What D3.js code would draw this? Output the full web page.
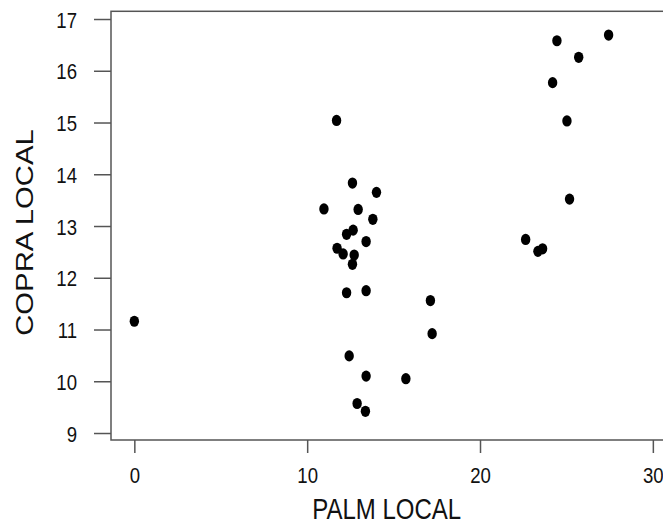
<!DOCTYPE html>
<html>
<head>
<meta charset="utf-8">
<script src="https://cdn.jsdelivr.net/npm/d3@7"></script>
<style>
  body { margin: 0; background: #fff; }
  svg text { font-family: "Liberation Sans", Arial, sans-serif; fill: #111; }
</style>
</head>
<body>
<div class="container"></div>
<script>
// palm local vs copra local
let palm = [0, 11.70, 12.62, 14.01, 10.97, 12.95, 13.80, 12.28, 12.66, 13.41, 11.73,
  12.08, 12.72, 12.62, 12.28, 13.41, 17.13, 17.23, 12.43, 13.41, 15.71, 12.89,
  13.37, 24.45, 27.44, 25.71, 24.20, 25.03, 25.18, 22.64, 23.35, 23.62];
let copra = [11.16, 15.04, 13.83, 13.65, 13.33, 13.32, 13.13, 12.84, 12.92, 12.70, 12.57,
  12.46, 12.44, 12.26, 11.71, 11.75, 11.56, 10.92, 10.49, 10.10, 10.05, 9.57,
  9.42, 16.58, 16.69, 16.26, 15.77, 15.03, 13.52, 12.74, 12.51, 12.56];
let xTicks = [0, 10, 20, 30];
let yTicks = [9, 10, 11, 12, 13, 14, 15, 16, 17];

let W = 663, H = 527;
let box = {left: 111, top: 11.3, bottom: 440, right: 741};
let stretch = 1.22; // picture looks squashed sideways

let x = d3.scaleLinear().domain([-1.35, 35.1]).range([box.left, box.right]);
let y = d3.scaleLinear().domain([8.865, 17.149]).range([box.bottom, box.top]);

let svg = d3.select(".container").append("svg")
    .attr("width", W)
    .attr("height", H);

let data = palm.map((p, i) => ({p: p, c: copra[i]}));

// box
svg.append("rect")
  .attr("x", box.left).attr("y", box.top)
  .attr("width", box.right - box.left).attr("height", box.bottom - box.top)
  .attr("fill", "none")
  .attr("stroke", "#555")
  .attr("stroke-width", 1.5);

// x axis
let gx = svg.append("g")
  .attr("transform", "translate(0," + box.bottom + ")")
  .call(d3.axisBottom(x).tickValues(xTicks).tickSize(13).tickSizeOuter(0).tickFormat(""));
gx.select(".domain").remove();
gx.selectAll(".tick line").attr("stroke", "#555").attr("stroke-width", 1.5);
gx.selectAll(".tick").append("text")
  .text(d => d)
  .attr("text-anchor", "middle")
  .attr("transform", "translate(0,43) scale(1," + stretch + ")")
  .style("font-size", "18.6px");

// y axis
let gy = svg.append("g")
  .attr("transform", "translate(" + box.left + ",0)")
  .call(d3.axisLeft(y).tickValues(yTicks).tickSize(17).tickSizeOuter(0).tickFormat(""));
gy.select(".domain").remove();
gy.selectAll(".tick line").attr("stroke", "#555").attr("stroke-width", 1.5);
gy.selectAll(".tick").append("text")
  .text(d => d)
  .attr("text-anchor", "end")
  .attr("transform", "translate(-34,8) scale(1," + stretch + ")")
  .style("font-size", "18.6px");

// points
svg.append("g").selectAll("ellipse")
  .data(data)
  .enter().append("ellipse")
  .attr("cx", d => x(d.p))
  .attr("cy", d => y(d.c))
  .attr("rx", 4.7)
  .attr("ry", 5.6)
  .style("fill", "#000");

// axis titles
svg.append("text")
  .text("PALM LOCAL")
  .attr("text-anchor", "middle")
  .attr("transform", "translate(386.7,518.5) scale(1," + stretch + ")")
  .style("font-size", "24px");

svg.append("text")
  .text("COPRA LOCAL")
  .attr("text-anchor", "middle")
  .attr("transform", "translate(33,232.5) rotate(-90) scale(" + stretch + ",1)")
  .style("font-size", "24px");
</script>
</body>
</html>
